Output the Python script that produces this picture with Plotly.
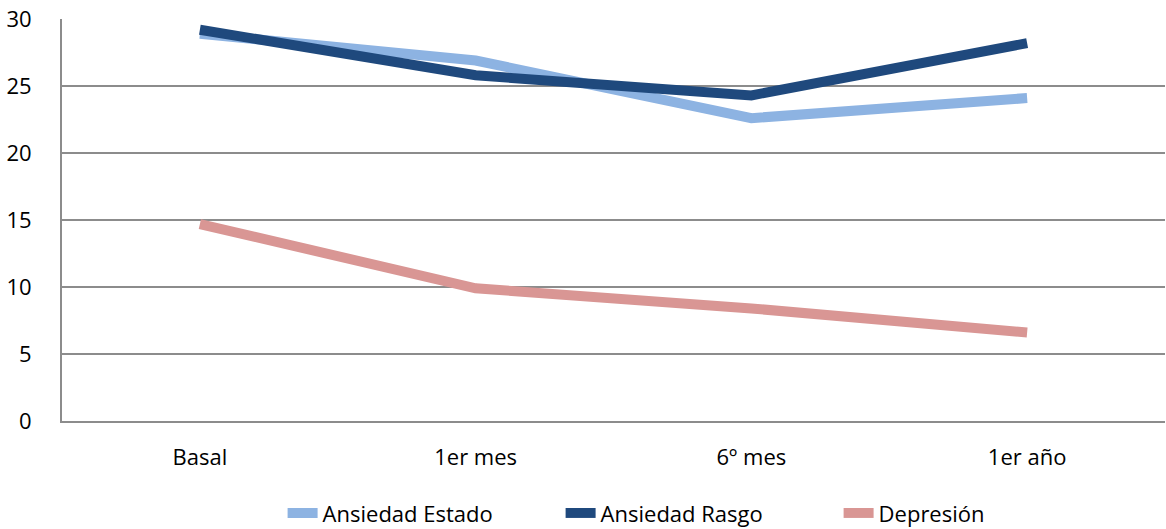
import plotly.graph_objects as go

categories = ["Basal", "1er mes", "6º mes", "1er año"]
ansiedad_estado = [28.9, 26.9, 22.6, 24.1]
ansiedad_rasgo = [29.2, 25.8, 24.3, 28.2]
depresion = [14.7, 9.9, 8.4, 6.6]

series = [
    ("Ansiedad Estado", ansiedad_estado, "#8db3e2"),
    ("Ansiedad Rasgo", ansiedad_rasgo, "#1f497d"),
    ("Depresión", depresion, "#d99694"),
]

fig = go.Figure()
for name, vals, color in series:
    fig.add_trace(go.Scatter(
        x=categories, y=vals, name=name, mode="lines",
        line=dict(color=color, width=10),
    ))

fig.update_layout(
    width=1166, height=529,
    margin=dict(l=62, r=1, t=19, b=108, autoexpand=False),
    paper_bgcolor="white", plot_bgcolor="white",
    font=dict(family="Open Sans, sans-serif", size=22, color="#000000"),
    showlegend=True,
    legend=dict(orientation="h", x=0.200, xanchor="left",
                yref="container", y=0.03, yanchor="middle",
                font=dict(size=22), itemwidth=30, tracegroupgap=0,
                entrywidth=233, entrywidthmode="pixels"),
)
fig.update_xaxes(
    type="category", range=[-0.5, 3.5],
    showline=True, linecolor="#8c8c8c", linewidth=2,
    showgrid=False, ticks="", ticklabelstandoff=16,
)
fig.update_yaxes(
    range=[0, 30], dtick=5,
    showline=True, linecolor="#8c8c8c", linewidth=2,
    showgrid=True, gridcolor="#8c8c8c", gridwidth=1.5,
    zeroline=False, ticks="", ticklabelstandoff=24,
)
fig.write_html("out.html")
